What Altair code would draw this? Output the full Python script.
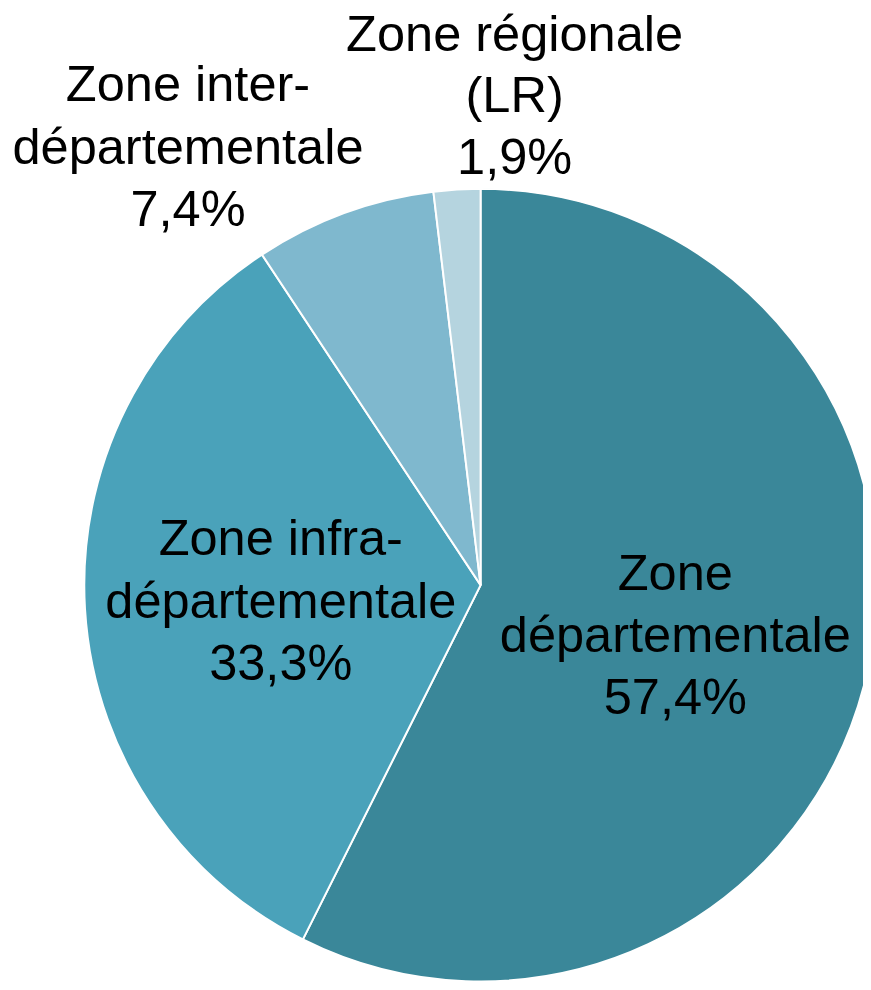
import altair as alt
import pandas as pd

categories = ["Zone départementale", "Zone infra-départementale", "Zone inter-départementale", "Zone régionale (LR)"]
labels = ["Zone\ndépartementale\n57,4%", "Zone infra-\ndépartementale\n33,3%", "Zone inter-\ndépartementale\n7,4%", "Zone régionale\n(LR)\n1,9%"]
values = [57.4, 33.3, 7.4, 1.9]
colors = ["#3A8799", "#4AA2BA", "#7FB8CE", "#B5D4DF"]

df = pd.DataFrame({"cat": categories, "label": labels, "value": values, "idx": list(range(len(values)))})

PADTOP = 20
CX, CY, R = 477, 578 - PADTOP, 400
LH = 63

base = alt.Chart(df)

arcs = base.mark_arc(radius=R, stroke="white", strokeWidth=2).encode(
    theta=alt.Theta("value:Q", stack=True),
    order=alt.Order("idx:Q"),
    color=alt.Color("cat:N", scale=alt.Scale(domain=categories, range=colors), legend=None),
    x=alt.value(CX),
    y=alt.value(CY),
)

lab = base.transform_joinaggregate(total="sum(value)").transform_window(
    cum="sum(value)", sort=[alt.SortField("idx")]
).transform_calculate(
    mid="(datum.cum - datum.value/2) / datum.total * 2 * PI"
)

def text_layer(cond, r, dx=0, dy=0, lh=LH):
    return lab.transform_filter(cond).transform_calculate(
        lx=f"{CX} + {r} * sin(datum.mid)", ly=f"{CY} - {r} * cos(datum.mid)"
    ).mark_text(
        font="Liberation Sans", fontSize=51, lineBreak="\n", lineHeight=lh,
        align="center", baseline="middle", color="black", dx=dx, dy=dy - lh,
    ).encode(
        x=alt.X("lx:Q", scale=None, axis=None),
        y=alt.Y("ly:Q", scale=None, axis=None),
        text="label:N",
    )

t_in = text_layer("datum.idx < 2", 202, 0, 6)
t_inter = text_layer("datum.idx == 2", 529, -113, 56)
t_reg = text_layer("datum.idx == 3", 497, 64, 4, 62)

chart = alt.layer(arcs, t_in, t_inter, t_reg).properties(
    width=863, height=955,
    padding={"top": PADTOP, "left": 0, "right": 0, "bottom": 0},
    autosize=alt.AutoSizeParams(type="none"),
).configure_view(stroke=None)

chart.save("out.html", embed_options={"renderer": "svg", "actions": False})
